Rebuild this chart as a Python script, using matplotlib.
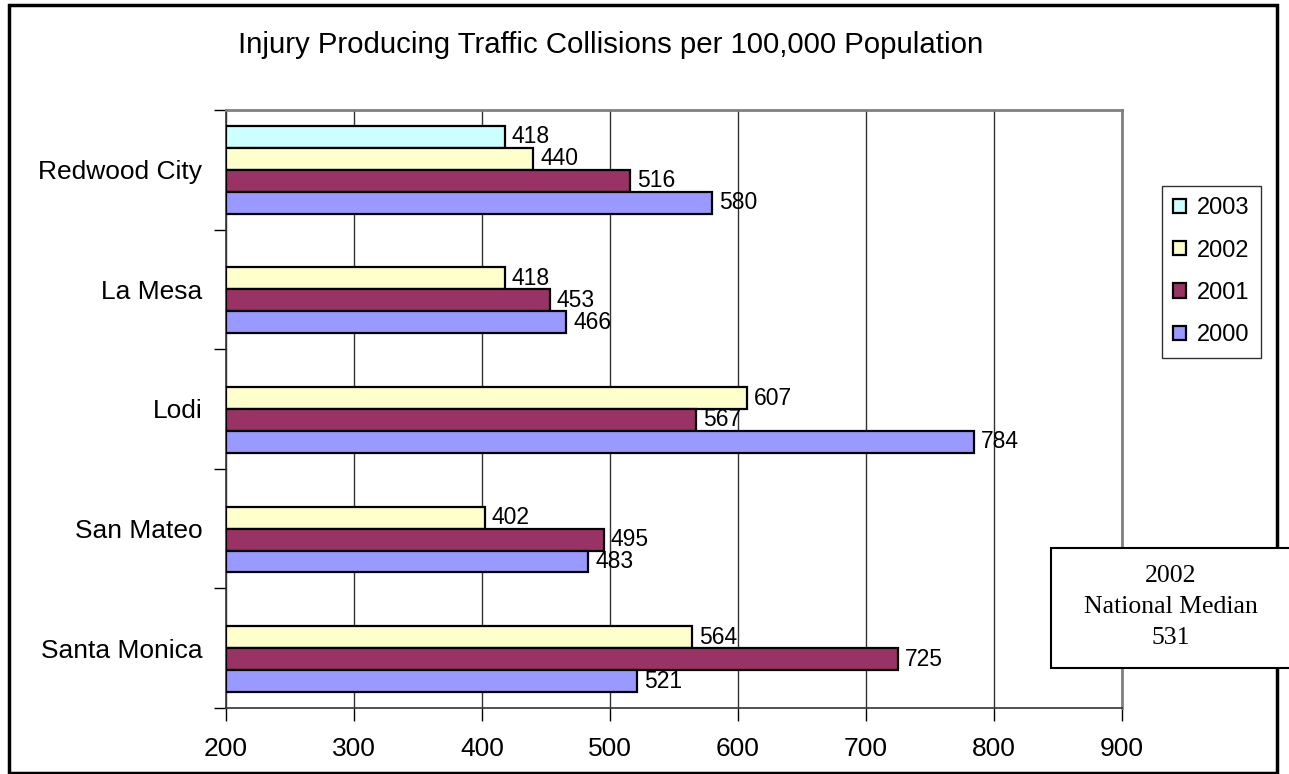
import numpy as np
import matplotlib.pyplot as plt
from matplotlib.patches import Rectangle

# data
cities = ['Redwood City', 'La Mesa', 'Lodi', 'San Mateo', 'Santa Monica']
years = ['2003', '2002', '2001', '2000']
v2003 = [418, np.nan, np.nan, np.nan, np.nan]
v2002 = [440, 418, 607, 402, 564]
v2001 = [516, 453, 567, 495, 725]
v2000 = [580, 466, 784, 483, 521]
colors = ['#CCFFFF', '#FFFFCC', '#993366', '#9999FF']
xticks = [200, 300, 400, 500, 600, 700, 800, 900]

plt.rcParams['font.family'] = ['Liberation Sans', 'DejaVu Sans']

W, H = 1289, 774
fig = plt.figure(figsize=(W / 100, H / 100), dpi=100)
ax = fig.add_axes([226 / W, 1 - 708 / H, (1122 - 226) / W, (708 - 110) / H])

series = [v2003, v2002, v2001, v2000]
ypos = np.arange(len(cities))
h = 0.733 / 4
for i, (vals, yr, col) in enumerate(zip(series, years, colors)):
    off = (i - 1.5) * h
    vals = np.array(vals, dtype=float)
    ok = ~np.isnan(vals)
    bars = ax.barh(ypos[ok] + off, vals[ok] - 200, left=200, height=h,
                   color=col, edgecolor='black', linewidth=1.6, label=yr, zorder=3)
    ax.bar_label(bars, labels=[str(int(v)) for v in vals[ok]], padding=5,
                 fontsize=16.5, zorder=4)

ax.set_xlim(200, 900)
ax.set_ylim(len(cities) - 0.5, -0.5)
ax.set_xticks(xticks)
ax.set_xticklabels([str(t) for t in xticks], fontsize=19)
ax.set_yticks(ypos)
ax.set_yticklabels(cities, fontsize=19)
ax.set_yticks(np.arange(len(cities) + 1) - 0.5, minor=True)
ax.tick_params(axis='y', which='major', length=0, pad=17)
ax.tick_params(axis='y', which='minor', length=9, width=1, direction='out')
ax.tick_params(axis='x', length=9, width=1, direction='out', pad=12)
ax.grid(axis='x', color='#333333', linewidth=1, zorder=0)
ax.set_axisbelow(True)
for s in ['top', 'right']:
    ax.spines[s].set_color('#808080')
    ax.spines[s].set_linewidth(2)
for s in ['left', 'bottom']:
    ax.spines[s].set_color('#333333')
    ax.spines[s].set_linewidth(1.2)

fig.text(611 / W, 1 - 45 / H, 'Injury Producing Traffic Collisions per 100,000 Population',
         ha='center', va='center', fontsize=21.2)

leg = fig.legend(loc='upper left', bbox_to_anchor=(1162 / W, 1 - 186 / H),
                 fontsize=17, frameon=True, fancybox=False, edgecolor='black',
                 handlelength=0.55, handleheight=0.55, handletextpad=0.45,
                 labelspacing=0.86, borderpad=0.48, borderaxespad=0)
leg.get_frame().set_linewidth(1)

# national median box
fig.patches.append(Rectangle((1051 / W, 1 - 668 / H), 300 / W, 120 / H,
                             transform=fig.transFigure, facecolor='white',
                             edgecolor='black', linewidth=1.5, zorder=5))
fig.text(1171 / W, 1 - 607 / H, '2002\nNational Median\n531', ha='center', va='center',
         fontsize=18.5, family='Liberation Serif', linespacing=1.5, zorder=6)

# outer border
fig.patches.append(Rectangle((9 / W, 1 - 773 / H), 1268 / W, 768 / H,
                             transform=fig.transFigure, fill=False,
                             edgecolor='black', linewidth=2.5, zorder=1))

fig.savefig('out.png', dpi=100)
